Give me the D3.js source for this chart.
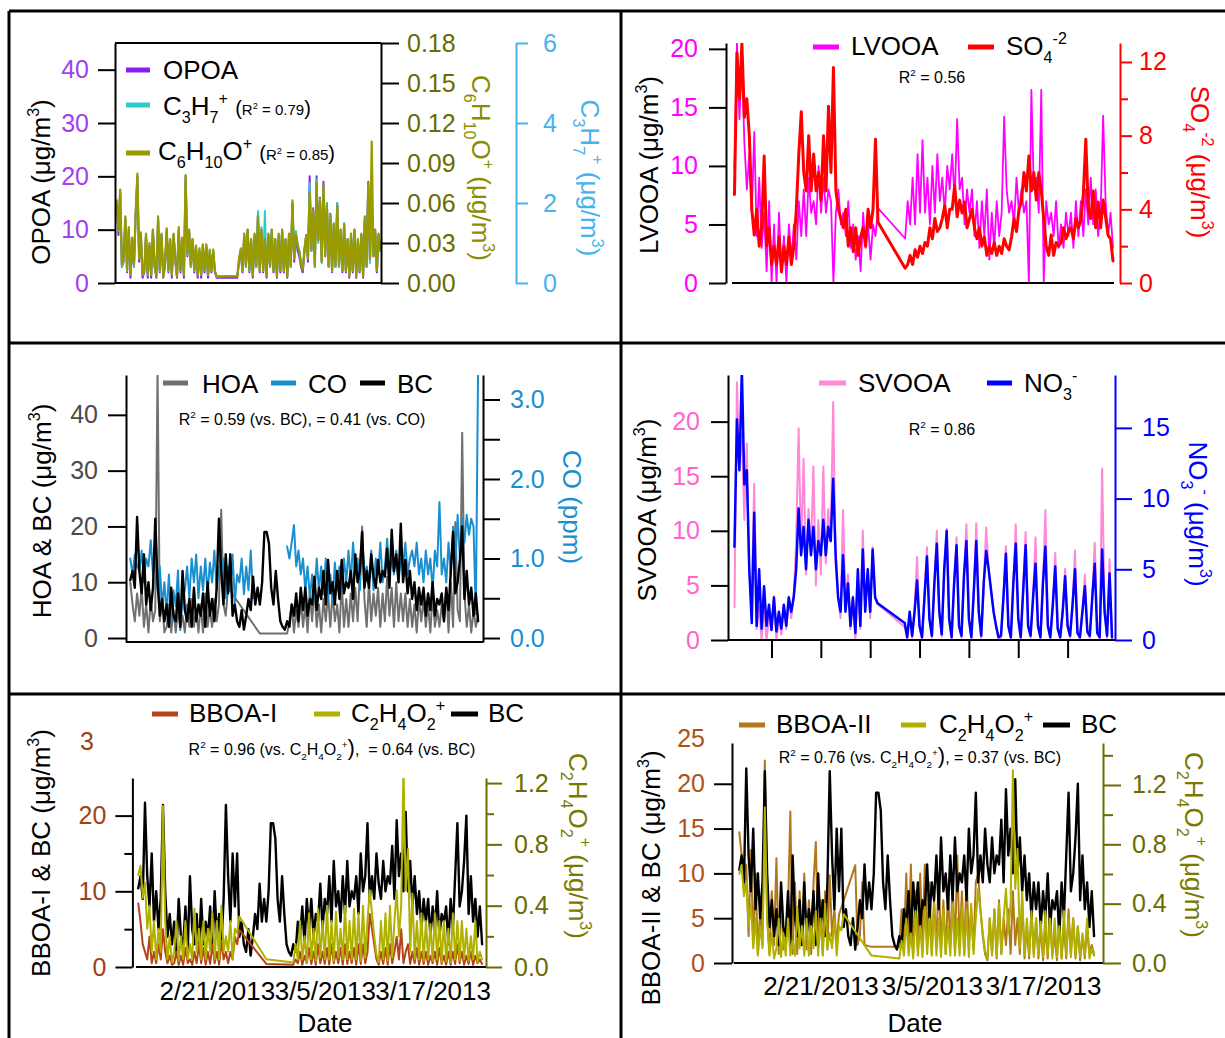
<!DOCTYPE html>
<html>
<head>
<meta charset="utf-8">
<title>Factor time series, Feb–Mar 2013</title>
<script src="https://cdn.jsdelivr.net/npm/d3@7"></script>
<style>
  html, body { margin: 0; padding: 0; background: #fff; }
  svg { display: block; }
  text { white-space: pre; }
</style>
</head>
<body>
<svg id="fig" width="1225" height="1038"></svg>
<script>
// ---- Data: 6-hourly samples starting 2013-02-12 06:00; null = no measurement ----
const opoa = [
  15, 9, 17, 3, 4, 12, 2, 10,
  1, 8, 3, 13, 20, 4, 9, 1,
  2, 9, 1, 7, 1, 10, 3, 1,
  12, 2, 9, 1, 3, 10, 2, 8,
  1, 9, 4, 1, 10, 2, 8, 1,
  20, 5, 10, 3, 8, 2, 7, 1,
  6, 1, 7, 2, 7, 1, 6, 2,
  6, 2, 1, null, null, null, null, null,
  null, null, null, null, null, null, 1, 4,
  6, 2, 9, 3, 10, 2, 8, 1,
  9, 3, 13, 2, 10, 2, 8, 1,
  9, 3, 10, 2, 8, 1, 9, 2,
  10, 2, 8, 1, 9, 3, 15, 4,
  9, 6, 5, 3, 2, 6, 9, 4,
  20, 6, 14, 3, 20, 8, 16, 4,
  19, 5, 15, 3, 13, 2, 11, 3,
  15, 3, 10, 2, 11, 2, 8, 1,
  9, 2, 10, 1, 8, 2, 9, 1,
  12, 3, 19, 4, 16, 5, 10, 2,
  9, 6
];
const c3h7 = [
  2.0, 1.3, 2.3, 0.4, 0.6, 1.6, 0.3, 1.3,
  0.2, 1.1, 0.4, 1.7, 2.6, 0.6, 1.2, 0.2,
  0.3, 1.2, 0.2, 0.9, 0.2, 1.3, 0.4, 0.2,
  1.6, 0.3, 1.2, 0.2, 0.4, 1.3, 0.3, 1.1,
  0.2, 1.2, 0.6, 0.2, 1.3, 0.3, 1.1, 0.2,
  2.6, 0.7, 1.3, 0.4, 1.1, 0.3, 0.9, 0.2,
  0.8, 0.2, 0.9, 0.3, 0.9, 0.2, 0.8, 0.3,
  0.8, 0.3, 0.16, null, null, null, null, null,
  null, null, null, null, null, null, 0.18, 0.6,
  0.8, 0.3, 1.2, 0.4, 1.3, 0.3, 1.1, 0.2,
  1.2, 0.4, 1.8, 0.3, 1.4, 0.3, 1.8, 0.2,
  1.2, 0.4, 1.3, 0.3, 1.1, 0.2, 1.2, 0.3,
  1.3, 0.3, 1.1, 0.2, 1.2, 0.4, 2.0, 0.6,
  1.3, 1.0, 0.8, 0.5, 0.4, 0.8, 1.2, 0.6,
  2.5, 0.8, 1.8, 0.4, 2.6, 1.0, 2.1, 0.5,
  2.4, 0.7, 2.0, 0.4, 1.7, 0.3, 1.5, 0.4,
  2.0, 0.4, 1.3, 0.3, 1.5, 0.3, 1.1, 0.2,
  1.2, 0.3, 1.3, 0.2, 1.1, 0.3, 1.2, 0.2,
  1.6, 0.4, 2.4, 0.5, 2.2, 0.7, 1.3, 0.3,
  1.2, 0.8
];
const c6h10o = [
  0.062, 0.04, 0.07, 0.014, 0.02, 0.05, 0.01, 0.042,
  0.006, 0.034, 0.014, 0.052, 0.082, 0.018, 0.038, 0.006,
  0.01, 0.037, 0.006, 0.03, 0.006, 0.04, 0.014, 0.005,
  0.05, 0.01, 0.037, 0.005, 0.014, 0.041, 0.01, 0.033,
  0.006, 0.037, 0.018, 0.005, 0.042, 0.01, 0.034, 0.006,
  0.081, 0.022, 0.04, 0.013, 0.033, 0.01, 0.028, 0.006,
  0.026, 0.006, 0.029, 0.009, 0.029, 0.006, 0.025, 0.009,
  0.025, 0.009, 0.005, null, null, null, null, null,
  null, null, null, null, null, null, 0.005, 0.018,
  0.026, 0.009, 0.037, 0.013, 0.04, 0.01, 0.033, 0.005,
  0.037, 0.013, 0.05, 0.009, 0.04, 0.009, 0.033, 0.005,
  0.037, 0.013, 0.04, 0.009, 0.033, 0.005, 0.037, 0.009,
  0.04, 0.009, 0.033, 0.005, 0.037, 0.013, 0.062, 0.018,
  0.036, 0.028, 0.024, 0.014, 0.01, 0.026, 0.036, 0.018,
  0.068, 0.025, 0.055, 0.013, 0.075, 0.032, 0.062, 0.016,
  0.074, 0.02, 0.058, 0.013, 0.05, 0.009, 0.044, 0.013,
  0.058, 0.013, 0.04, 0.009, 0.044, 0.009, 0.033, 0.005,
  0.037, 0.009, 0.04, 0.005, 0.033, 0.009, 0.037, 0.005,
  0.05, 0.013, 0.075, 0.018, 0.106, 0.02, 0.04, 0.009,
  0.037, 0.026
];
const lvooa = [
  9.8, 20.5, 14, 19, 12, 8, 11, 6,
  12.9, 4, 9, 3, 6, 1, 7, 0,
  5, 0, 6, 1, 4, 0, 5, 2,
  5, 2, 7, 4, 8, 4, 9, 6,
  7, 5, 10, 6, 9, 6, 8, 7,
  0, 6, 8, 5, 6, 4, 7, 3,
  5, 2, 4, 1, 6, 3, 5, 2,
  5, 4, 6.4, null, null, null, null, null,
  null, null, null, null, null, 3.8, 7, 5,
  9, 5, 11, 6, 12.2, 6, 9, 5,
  10, 6, 11, 7, 9, 6, 10, 8,
  11, 7, 14, 8, 9, 5, 8, 6,
  8, 4, 7, 3, 7, 4, 8, 2,
  6, 3, 7, 4, 6, 14.2, 8, 6,
  7, 5, 9, 6, 8, 6, 7, 0,
  16.5, 8, 9, 6, 16.5, 0, 7, 5,
  6, 4, 7, 3, 5, 3, 6, 4,
  6, 3, 7, 4, 7, 4, 8, 5,
  9, 5, 8, 4, 6, 14.3, 7, 4,
  6, 3
];
const so4 = [
  4.8, 12.5, 10, 13, 9, 10, 8, 4,
  2.6, 4, 2, 3, 6.9, 2, 3, 1,
  2, 1, 2.5, 0.6, 2, 1, 2.5, 1,
  2, 4, 7, 9.3, 6, 5, 8, 5,
  7, 5, 6, 4.5, 8, 5, 9.6, 6,
  11.7, 5, 4, 3.5, 3, 4, 2, 3,
  1.7, 3, 1.5, 2.5, 3, 2, 4, 3,
  4, 7.8, 3.3, null, null, null, null, null,
  null, null, null, null, null, 0.8, 1, 1.5,
  1, 1.8, 1.4, 2, 1.6, 2.2, 2, 3,
  2.4, 3.5, 2.8, 3, 3.5, 4.2, 3, 4,
  4, 5.3, 3.6, 4.5, 3.8, 4.4, 3, 3.5,
  4, 3, 2.4, 3, 2, 2.5, 1.5, 2,
  1.6, 2.2, 1.5, 2, 1.6, 2.4, 2, 1.8,
  2.5, 3.5, 2.8, 4, 4.4, 6, 5, 6.9,
  5, 6, 4.5, 6, 5, 3.5, 2, 1.5,
  2.6, 1.5, 2.2, 2, 2.2, 3, 2.4, 2.8,
  3, 2.4, 3.5, 3, 3.4, 4.8, 7.8, 4,
  3.5, 5, 3, 4.4, 3, 4.5, 3.6, 2.6,
  2.4, 1.2
];
const hoa = [
  10, 6, 3, 8, 4, 9, 2, 6,
  1, 7, 3, 5, 48, 3, 7, 1,
  2, 6, 1, 5, 1, 5, 2, 4,
  1, 6, 2, 7, 2, 5, 1, 6,
  1, 8, 2, 5, 2, 7, 3, 6,
  23, 6, 4, 9, null, null, null, null,
  null, null, null, null, null, null, null, null,
  null, 0.8, null, null, null, null, null, null,
  null, null, null, null, null, 0.8, 3, 6,
  1, 5, 2, 7, 2, 6, 1, 8,
  3, 9, 2, 6, 1, 7, 3, 8,
  2, 8, 3, 6, 1, 10, 2, 7,
  2, 8, 3, 9, 3, 12, 20, 7,
  2, 10, 3, 8, 4, 9, 2, 8,
  3, 11, 4, 9, 2, 10, 3, 8,
  3, 8, 2, 7, 2, 6, 1, 7,
  3, 7, 2, 6, 1, 8, 2, 5,
  2, 6, 3, 9, 1, 10, 2, 20.8,
  5, 3, 36.8, 8, 2, 6, 1, 5,
  2, 4
];
const co = [
  1.0, 0.8, 1.05, 0.9, 0.85, 1.1, 0.7, 1.0,
  0.9, 1.23, 0.8, 1.1, 0.6, 0.9, 0.4, 0.7,
  0.3, 0.8, 0.2, 0.6, 0.4, 0.85, 0.1, 0.5,
  0.6, 0.9, 0.5, 1.0, 0.7, 1.05, 0.5, 0.9,
  0.6, 1.0, 0.55, 0.95, 0.7, 1.1, 0.6, 0.9,
  0.8, 1.0, 0.5, 0.9, 0.6, 1.05, 0.45, 0.8,
  0.7, 1.0, 0.55, 0.9, 0.6, 1.1, 0.5, null,
  null, null, null, null, null, null, null, null,
  null, null, null, null, null, 1.15, 1.0, 1.2,
  1.42, 0.9, 1.1, 0.8, 1.0, 0.6, 0.9, 0.5,
  0.8, 0.5, 1.0, 0.6, 0.9, 0.55, 1.0, 0.5,
  0.8, 0.45, 0.95, 0.6, 0.9, 0.6, 1.0, 0.7,
  1.1, 0.7, 1.2, 0.8, 1.0, 0.6, 1.27, 0.8,
  0.9, 0.7, 1.1, 0.6, 1.0, 0.8, 1.2, 0.7,
  0.9, 1.25, 0.8, 1.0, 0.8, 1.1, 0.7, 1.0,
  0.9, 1.2, 0.8, 1.0, 1.1, 0.9, 1.2, 0.8,
  1.0, 0.7, 1.1, 0.8, 1.0, 0.6, 1.1, 0.9,
  1.71, 0.8, 1.0, 0.7, 1.2, 0.8, 1.4, 0.9,
  1.55, 1.0, 1.5, 1.2, 1.55, 1.3, 1.5, 1.4,
  0.3, 3.4
];
const bc = [
  10.4, 12, 9, 21.7, 12, 8, 15, 6,
  10, 5, 9, 21.4, 10, 4, 7, 3,
  6, 2, 9, 4, 3, 8, 2, 12,
  5, 3, 7, 2, 9, 3, 6, 4,
  8, 2, 10, 4, 7, 3, 9, 21.4,
  12, 6, 15, 8, 15, 4, 6, 3,
  2, 5, 1.5, 4, 7, 5, 11, 6,
  9, 6, 10, 19, 19, 17, 9, 6,
  12, 7, 3, 2, 1.5, 3, 2, 6,
  4, 8, 3, 9, 5, 9, 4, 7,
  6, 11, 5, 9, 7, 12, 6, 14,
  8, 10, 6, 12, 7, 14, 8, 10,
  9, 12, 7, 15, 10, 12, 19, 9,
  12, 9, 15, 11, 9, 14, 10, 12,
  11, 16, 9, 19.4, 12, 15, 10, 20.5,
  10, 14, 8, 12, 7, 10, 5, 9,
  6, 9, 4, 8, 5, 10, 4, 7,
  6, 8, 3, 9, 5, 12, 19, 8,
  10, 14, 20, 7, 12, 6, 9, 4,
  8, 3
];
const svooa = [
  3, 23.6, 16, 18.9, 11, 18, 6, 4,
  14.3, 1, 3, 0, 3, 0, 2, 1,
  4, 0, 2, 0.5, 3, 1, 4, 2,
  4, 9, 19.4, 8, 16.6, 6, 12, 8,
  15.9, 5, 11, 6, 15.9, 7, 12, 9,
  21.8, 7, 4, 2, 11.9, 3, 6, 1,
  4, 0, 6, 1, 10, 3, 6, 2,
  8.5, 4, 3.3, null, null, null, null, null,
  null, null, null, null, null, 1.2, 0.1, 2,
  0.2, 3, 7.6, 1.2, 0.1, 4, 8.5, 2,
  0.2, 5, 10, 2.5, 0.3, 6, 10.2, 2,
  0.1, 5, 9.4, 1.3, 0.2, 6, 10.6, 2,
  0.1, 4.5, 10.7, 2.5, 0.2, 5, 10.3, 6.5,
  4.5, 2.6, 1.3, 0.1, 0.2, 4, 8.6, 1.2,
  0.1, 5, 10.6, 2, 0.1, 4.5, 9.9, 1.3,
  0.2, 4, 9.4, 1.2, 0.1, 5, 11.9, 1.3,
  0.1, 3, 8, 1, 0.1, 2.5, 6.5, 1.2,
  0.2, 3, 8.2, 0.6, 0.1, 2.5, 6, 0.7,
  0.2, 4, 8.9, 0.6, 0.1, 15.7, 2.6, 0.2,
  7.4, 0.1
];
const no3 = [
  6.6, 15.6, 12, 19.1, 11, 12, 5, 1.2,
  9, 1, 5, 0.8, 3.8, 1, 2.5, 0.7,
  3, 0.6, 2, 0.8, 2.5, 1, 3, 2,
  3, 5, 9.3, 6, 8, 5, 8.5, 6,
  8, 5, 7, 6, 8.5, 6, 8, 7,
  11.4, 6, 3, 2, 6, 2, 4, 1,
  3, 0.5, 5, 1, 6.4, 2, 5, 2,
  6.4, 3, 2.6, null, null, null, null, null,
  null, null, null, null, null, 1.2, 0.2, 2,
  0.3, 2, 4.2, 1, 0.2, 3, 5.9, 1.5,
  0.3, 4, 6.8, 2, 0.4, 5, 7.7, 1.5,
  0.2, 4, 6.7, 1, 0.3, 4.5, 7.0, 1.5,
  0.2, 3.5, 7.0, 2, 0.3, 4, 6.3, 5,
  3.5, 2, 1, 0.2, 0.3, 3, 6.1, 1,
  0.2, 4, 6.8, 1.5, 0.2, 3.5, 6.7, 1,
  0.3, 3, 5.4, 1, 0.2, 4, 6.6, 1,
  0.2, 2.5, 5.2, 0.8, 0.2, 2, 4.5, 1,
  0.3, 2.5, 5.0, 0.5, 0.2, 2, 3.8, 0.6,
  0.3, 3, 5.4, 0.5, 0.2, 6.4, 2, 0.3,
  4.7, 0.2
];
const bboa1 = [
  8.4, 6, 3, 2, 1, 4, 0.5, 2,
  0.5, 3, 1, 5, 2, 0.5, 1.5, 0.3,
  0.5, 2, 0.3, 1.5, 0.3, 2.5, 0.5, 1,
  0.3, 2, 0.5, 3, 0.5, 2.5, 0.3, 2,
  0.4, 3, 0.5, 2, 0.3, 3.5, 1, 2,
  0.5, 2, 1, 4, 3, 4.9, null, null,
  null, null, null, null, null, null, null, null,
  null, 0.4, null, null, null, null, null, null,
  null, null, null, null, null, 0.3, 1, 0.5,
  2, 0.3, 1.5, 0.5, 2.5, 0.4, 2, 0.3,
  3, 0.5, 2, 0.4, 2.5, 0.3, 3, 0.5,
  2, 0.5, 2.5, 0.3, 3, 0.4, 2, 0.5,
  2.5, 0.3, 3, 0.4, 3, 0.5, 2, 7,
  5, 3, 1, 0.3, 2, 0.4, 2.5, 0.3,
  3, 0.5, 2, 4, 1, 5, 0.5, 2,
  3, 0.4, 2, 0.5, 2.5, 0.3, 2, 0.4,
  2, 0.3, 1.5, 0.5, 2, 0.3, 2.5, 0.4,
  1.5, 0.3, 2, 0.3, 2, 0.4, 3, 0.5,
  2, 0.3, 1.5, 0.4, 2, 0.3, 1.5, 0.5,
  1, 0.4
];
const c2h4o2 = [
  0.6, 0.66, 0.45, 0.55, 0.25, 0.4, 0.1, 0.3,
  0.05, 0.25, 0.1, 1.05, 0.3, 0.05, 0.2, 0.03,
  0.1, 0.3, 0.04, 0.2, 0.05, 0.3, 0.05, 0.15,
  0.05, 0.38, 0.1, 0.25, 0.05, 0.3, 0.05, 0.25,
  0.1, 0.35, 0.05, 0.3, 0.05, 0.4, 0.1, 0.2,
  0.1, 0.3, 0.05, 0.25, 0.22, 0.33, null, null,
  null, null, null, null, null, null, null, null,
  null, 0.05, null, null, null, null, null, null,
  null, null, null, null, null, 0.03, 0.15, 0.05,
  0.3, 0.05, 0.2, 0.03, 0.35, 0.05, 0.25, 0.04,
  0.38, 0.06, 0.3, 0.05, 0.4, 0.05, 0.3, 0.04,
  0.36, 0.06, 0.25, 0.05, 0.4, 0.05, 0.3, 0.05,
  0.38, 0.05, 0.35, 0.04, 0.4, 0.06, 0.3, 0.5,
  0.35, 0.2, 0.08, 0.03, 0.3, 0.05, 0.35, 0.04,
  0.4, 0.06, 0.3, 0.5, 0.2, 0.4, 1.3, 0.5,
  0.77, 0.1, 0.48, 0.05, 0.3, 0.05, 0.35, 0.04,
  0.3, 0.05, 0.28, 0.04, 0.35, 0.05, 0.3, 0.03,
  0.3, 0.04, 0.25, 0.03, 0.35, 0.05, 0.3, 0.04,
  0.3, 0.05, 0.25, 0.04, 0.2, 0.05, 0.3, 0.03,
  0.1, 0.05
];
const bboa2 = [
  14.6, 12, 8, 11, 3, 12.6, 2, 10,
  1, 6, 2, 22.6, 5, 1, 8, 2,
  11.7, 1, 7, 1.5, 2, 6, 16.9, 1,
  9, 1, 8, 2, 10, 1.5, 7, 1,
  9, 13.5, 2, 7, 1, 8, 1.5, 9.8,
  3, 6, 2, 5.4, null, null, null, null,
  null, null, 10.9, 2, 3, 9, 2, null,
  null, 1.8, null, null, null, null, null, null,
  null, null, null, null, null, 1.8, 6, 2,
  10, 2, 11, 1, 8, 1.5, 10, 2,
  11, 2, 9, 1, 7, 2, 10, 1.5,
  7, 1, 8, 2, 9, 1.5, 12, 2,
  8, 1, 10, 2, 6, 1.5, 9, 10,
  6, 3, 1, 0.3, 5, 1, 6, 0.5,
  7, 1, 5, 2, 6, 1, 8, 2,
  5, 1, 7, 0.5, 4, 0.5, 6, 1,
  5, 0.5, 4, 0.3, 4, 0.5, 6, 1,
  3, 0.3, 5, 0.5, 4, 0.5, 6, 1,
  5, 0.5, 4, 0.3, 3, 0.5, 4, 1,
  2, 1
];

// ---- Axis ticks and date labels ----
const opoaTicks = [0, 10, 20, 30, 40];
const c6h10oTicks = [0, 0.03, 0.06, 0.09, 0.12, 0.15, 0.18];
const c3h7Ticks = [0, 2, 4, 6];
const lvooaTicks = [0, 5, 10, 15, 20];
const so4Ticks = [0, 4, 8, 12];
const so4Minor = [2, 6, 10];
const hoaTicks = [0, 10, 20, 30, 40];
const coTicks = [0, 1, 2, 3];
const coMinor = [0.5, 1.5, 2.5];
const svooaTicks = [0, 5, 10, 15, 20];
const no3Ticks = [0, 5, 10, 15];
const bboa1Ticks = [0, 10, 20];
const bboa1Minor = [5, 15];
const bboa2Ticks = [0, 5, 10, 15, 20];
const c2h4o2Ticks = [0, 0.4, 0.8, 1.2];
const c2h4o2Minor5 = [0.2, 0.6, 1.0];
const c2h4o2Minor6 = [0.2, 0.6, 1.0, 1.4];
const dateLabels = ["2013-02-21", "2013-03-05", "2013-03-17"];
const dateMarks = ["2013-02-16", "2013-02-21", "2013-02-26", "2013-03-03", "2013-03-08", "2013-03-13", "2013-03-18"];

// ---- Setup ----
const FONT = '"Liberation Sans", Arial, Helvetica, sans-serif';
const svg = d3.select("#fig").attr("font-family", FONT);
svg.append("rect").attr("width", 1225).attr("height", 1038).attr("fill", "#fff");

const HOUR = 36e5;
const t0 = Date.UTC(2013, 1, 12);
const times = opoa.map((_, i) => new Date(t0 + (i + 1) * 6 * HOUR));
const xDomain = [new Date(t0), new Date(t0 + 38.6 * 24 * HOUR)];
const utcDay = s => new Date(s + "T00:00:00Z");
const dateFmt = d3.utcFormat("%-m/%-d/%Y");

// rich-text parts: [text, font size, baseline offset]
const N = (t, s) => [t, s, 0];
const sub = (t, s) => [t, s * 0.62, s * 0.3];
const sup = (t, s) => [t, s * 0.62, -s * 0.42];
const unit = s => [N(" (μg/m", s), sup("3", s), N(")", s)];

function rich(x, y, parts, o = {}) {
  const t = svg.append("text")
    .attr("transform", `translate(${x},${y})` + (o.rotate ? ` rotate(${o.rotate})` : ""))
    .attr("text-anchor", o.anchor || "start")
    .attr("fill", o.fill || "#000");
  let off = 0;
  parts.forEach(([str, size, shift]) => {
    t.append("tspan").attr("dy", shift - off).attr("font-size", size).text(str);
    off = shift;
  });
  return t;
}

let clipCount = 0;
function plotLayer(x0, y0, x1, y1) {
  const id = "plotclip" + (++clipCount);
  svg.append("clipPath").attr("id", id)
    .append("rect").attr("x", x0).attr("y", y0).attr("width", x1 - x0).attr("height", y1 - y0);
  return svg.append("g").attr("clip-path", `url(#${id})`);
}

function series(g, values, x, y, color, width, bridgeGaps = true) {
  let pts = values.map((v, i) => ({ t: times[i], v }));
  if (bridgeGaps) pts = pts.filter(p => p.v != null);
  g.append("path").datum(pts)
    .attr("d", d3.line().defined(p => p.v != null).x(p => x(p.t)).y(p => y(p.v)))
    .attr("fill", "none").attr("stroke", color).attr("stroke-width", width)
    .attr("stroke-linejoin", "round").attr("stroke-linecap", "round");
}

function axis(kind, scale, pos, o) {
  const make = kind === "left" ? d3.axisLeft : kind === "right" ? d3.axisRight : d3.axisBottom;
  const gen = make(scale).tickValues(o.values).tickSize(o.len).tickSizeOuter(0)
    .tickPadding(o.pad ?? 8).tickFormat(o.fmt || (() => ""));
  const a = svg.append("g")
    .attr("transform", kind === "bottom" ? `translate(0,${pos})` : `translate(${pos},0)`)
    .call(gen);
  a.attr("font-family", null).attr("font-size", null);
  a.select(".domain").attr("stroke", o.line || "#000").attr("stroke-width", 2)
    .style("display", o.noDomain ? "none" : null);
  a.selectAll(".tick line").attr("stroke", o.line || "#000").attr("stroke-width", 2)
    .style("display", o.len === 0 ? "none" : null);
  a.selectAll(".tick text").attr("fill", o.color || "#000")
    .attr("font-size", o.size || 25).attr("font-family", FONT);
  return a;
}

function line(x1, y1, x2, y2, color = "#000", w = 2) {
  svg.append("line").attr("x1", x1).attr("y1", y1).attr("x2", x2).attr("y2", y2)
    .attr("stroke", color).attr("stroke-width", w);
}
const swatch = (x0, x1, y, color) => line(x0, y, x1, y, color, 5);

const S = 26;      // title / legend size
const R = 16;      // R² annotation size

// ---- Panel 1: OPOA ----
{
  const x = d3.scaleUtc().domain(xDomain).range([115, 381]);
  const yL = d3.scaleLinear().domain([0, 45]).range([283, 43]);
  const yC6 = d3.scaleLinear().domain([0, 0.18]).range([283, 43]);
  const yC3 = d3.scaleLinear().domain([0, 6]).range([283, 43]);
  const g = plotLayer(115, 43, 381, 283);
  series(g, opoa, x, yL, "#8a1ef0", 2);
  series(g, c3h7, x, yC3, "#2ccccc", 2);
  series(g, c6h10o, x, yC6, "#999900", 2.2);
  line(115, 43, 381, 43); line(115, 283, 381, 283);
  axis("left", yL, 115, { values: opoaTicks, len: 17, pad: 9, fmt: d3.format("d"), color: "#a040f0" });
  axis("right", yC6, 381, { values: c6h10oTicks, len: 18, pad: 8, fmt: d3.format(".2f"), color: "#6b6b00" });
  axis("right", yC3, 516, { values: c3h7Ticks, len: 12, pad: 15, fmt: d3.format("d"), color: "#45b3ee", line: "#45b3ee" });
  rich(50, 182, [N("OPOA", S), ...unit(S)], { rotate: -90, anchor: "middle" });
  rich(472, 168, [N("C", S), sub("6", S), N("H", S), sub("10", S), N("O", S), sup("+", S), ...unit(S)],
    { rotate: 90, anchor: "middle", fill: "#8c8c00" });
  rich(581, 178, [N("C", S), sub("3", S), N("H", S), sub("7", S), sup("+", S), ...unit(S)],
    { rotate: 90, anchor: "middle", fill: "#45b3ee" });
  swatch(126, 150, 70, "#8a1ef0");
  rich(163, 79, [N("OPOA", S)]);
  swatch(126, 150, 105, "#2ccccc");
  rich(163, 115, [N("C", S), sub("3", S), N("H", S), sub("7", S), sup("+", S), N(" ", S),
    N("(", 20), N("R", 15), sup("2", 15), N(" = 0.79", 15), N(")", 20)]);
  swatch(126, 150, 153, "#999900");
  rich(158, 160, [N("C", S), sub("6", S), N("H", S), sub("10", S), N("O", S), sup("+", S), N(" ", S),
    N("(", 20), N("R", 15), sup("2", 15), N(" = 0.85", 15), N(")", 20)]);
}

// ---- Panel 2: LVOOA vs sulfate ----
{
  const x = d3.scaleUtc().domain(xDomain).range([732, 1114]);
  const yL = d3.scaleLinear().domain([0, 20.5]).range([283, 43]);
  const yR = d3.scaleLinear().domain([0, 13.03]).range([283, 43]);
  const g = plotLayer(726, 43, 1120, 283);
  series(g, lvooa, x, yL, "#ff00ff", 1.8);
  series(g, so4, x, yR, "#ff0000", 3);
  line(732, 283, 1114, 283);
  axis("left", yL, 726, { values: lvooaTicks, len: 17, pad: 11, fmt: d3.format("d"), color: "#ff00ff" });
  axis("right", yR, 1120, { values: so4Ticks, len: 12, pad: 7, fmt: d3.format("d"), color: "#ff0000", line: "#ff0000" });
  axis("right", yR, 1120, { values: so4Minor, len: 8, line: "#ff0000", noDomain: true });
  rich(658, 165, [N("LVOOA", S), ...unit(S)], { rotate: -90, anchor: "middle" });
  rich(1191, 162, [N("SO", S), sub("4", S), sup("-2", S), ...unit(S)], { rotate: 90, anchor: "middle", fill: "#ff0000" });
  swatch(813, 839, 47, "#ff00ff");
  rich(851, 55, [N("LVOOA", S)]);
  swatch(968, 994, 47, "#ff0000");
  rich(1006, 55, [N("SO", S), sub("4", S), sup("-2", S)]);
  rich(932, 83, [N("R", R), sup("2", R), N(" = 0.56", R)], { anchor: "middle" });
}

// ---- Panel 3: HOA, CO, BC ----
{
  const x = d3.scaleUtc().domain(xDomain).range([128, 479]);
  const yL = d3.scaleLinear().domain([-0.714, 47.14]).range([642, 375]);
  const yR = d3.scaleLinear().domain([-0.05, 3.308]).range([642, 375]);
  const g = plotLayer(126, 375, 483, 642);
  series(g, hoa, x, yL, "#707070", 2);
  series(g, co, x, yR, "#1a8fd0", 2, false);
  series(g, bc, x, yL, "#000000", 2.4);
  line(126, 642, 483, 642);
  axis("left", yL, 126, { values: hoaTicks, len: 18, pad: 10, fmt: d3.format("d"), color: "#4a4a4a" });
  axis("right", yR, 483, { values: coTicks, len: 17, pad: 10, fmt: d3.format(".1f"), color: "#1a8fd0" });
  axis("right", yR, 483, { values: coMinor, len: 17, noDomain: true });
  rich(51, 511, [N("HOA & BC", S), ...unit(S)], { rotate: -90, anchor: "middle" });
  rich(563, 507, [N("CO (ppm)", S)], { rotate: 90, anchor: "middle", fill: "#1a8fd0" });
  swatch(163, 188, 383, "#707070");
  rich(202, 393, [N("HOA", S)]);
  swatch(271, 296, 383, "#1a8fd0");
  rich(308, 393, [N("CO", S)]);
  swatch(360, 385, 383, "#000");
  rich(397, 393, [N("BC", S)]);
  rich(302, 425, [N("R", R), sup("2", R), N(" = 0.59 (vs. BC), = 0.41 (vs. CO)", R)], { anchor: "middle" });
}

// ---- Panel 4: SVOOA vs nitrate ----
{
  const x = d3.scaleUtc().domain(xDomain).range([732, 1113]);
  const yL = d3.scaleLinear().domain([0, 24.27]).range([640, 375]);
  const yR = d3.scaleLinear().domain([0, 18.74]).range([640, 375]);
  const g = plotLayer(728, 375, 1115, 640);
  series(g, svooa, x, yL, "#ff88d8", 2);
  series(g, no3, x, yR, "#0000ff", 2.5);
  line(728, 640, 1115, 640);
  axis("bottom", x, 640, { values: dateMarks.map(utcDay), len: 18, noDomain: true });
  axis("left", yL, 728, { values: svooaTicks, len: 17, pad: 11, fmt: d3.format("d"), color: "#ff66cc" });
  axis("right", yR, 1115, { values: no3Ticks, len: 17, pad: 10, fmt: d3.format("d"), color: "#0000ff", line: "#0000ff" });
  rich(656, 510, [N("SVOOA", S), ...unit(S)], { rotate: -90, anchor: "middle" });
  rich(1189, 514, [N("NO", S), sub("3", S), sup("-", S), ...unit(S)], { rotate: 90, anchor: "middle", fill: "#0000ff" });
  swatch(819, 846, 383, "#ff88d8");
  rich(858, 392, [N("SVOOA", S)]);
  swatch(987, 1012, 383, "#0000ff");
  rich(1024, 392, [N("NO", S), sub("3", S), sup("-", S)]);
  rich(942, 435, [N("R", R), sup("2", R), N(" = 0.86", R)], { anchor: "middle" });
}

// ---- Panel 5: BBOA-I, C2H4O2+, BC ----
{
  const x = d3.scaleUtc().domain(xDomain).range([136, 483]);
  const yL = d3.scaleLinear().domain([0, 24.97]).range([967, 778]);
  const yR = d3.scaleLinear().domain([0, 1.233]).range([967, 778]);
  const g = plotLayer(132, 778, 486, 967);
  series(g, bc, x, yL, "#000000", 2.4);
  series(g, bboa1, x, yL, "#b5441a", 2);
  series(g, c2h4o2, x, yR, "#b0b000", 2);
  line(136, 967, 486, 967);
  axis("left", yL, 132.4, { values: bboa1Ticks, len: 17, pad: 9, fmt: d3.format("d"), color: "#a0401a" });
  axis("left", yL, 132.4, { values: bboa1Minor, len: 8, noDomain: true });
  axis("right", yR, 486, { values: c2h4o2Ticks, len: 16, pad: 12, fmt: d3.format(".1f"), color: "#6b6b00", line: "#6b6b00" });
  axis("right", yR, 486, { values: c2h4o2Minor5, len: 8, line: "#6b6b00", noDomain: true });
  axis("bottom", x, 967, { values: dateLabels.map(utcDay), len: 0, pad: 15, fmt: dateFmt, size: 26, noDomain: true });
  rich(80, 750, [N("3", 25)], { fill: "#a0401a" });
  rich(325, 1032, [N("Date", S)], { anchor: "middle" });
  rich(50, 853, [N("BBOA-I & BC", S), ...unit(S)], { rotate: -90, anchor: "middle" });
  rich(569, 846, [N("C", S), sub("2", S), N("H", S), sub("4", S), N("O", S), sub("2", S), sup("+", S), ...unit(S)],
    { rotate: 90, anchor: "middle", fill: "#7a7a00" });
  swatch(152, 178, 714, "#b5441a");
  rich(189, 722, [N("BBOA-I", S)]);
  swatch(314, 340, 714, "#b0b000");
  rich(351, 722, [N("C", S), sub("2", S), N("H", S), sub("4", S), N("O", S), sub("2", S), sup("+", S)]);
  swatch(451, 478, 714, "#000");
  rich(488, 722, [N("BC", S)]);
  rich(332, 755, [N("R", R), sup("2", R), N(" = 0.96 (vs. C", R), sub("2", R), N("H", R), sub("4", R), N("O", R),
    sub("2", R), sup("+", R), N(")", 22), N(",  = 0.64 (vs. BC)", R)], { anchor: "middle" });
}

// ---- Panel 6: BBOA-II, C2H4O2+, BC ----
{
  const x = d3.scaleUtc().domain(xDomain).range([737, 1095]);
  const yL = d3.scaleLinear().domain([0, 24.55]).range([963, 743]);
  const yR = d3.scaleLinear().domain([0, 1.483]).range([963, 743]);
  const g = plotLayer(732, 743, 1103, 963);
  series(g, bboa2, x, yL, "#b3771b", 2);
  series(g, bc, x, yL, "#000000", 2.4);
  series(g, c2h4o2, x, yR, "#b0b000", 2);
  line(734, 963, 1103, 963);
  axis("left", yL, 732, { values: bboa2Ticks, len: 18, pad: 9, fmt: d3.format("d"), color: "#b0501a" });
  axis("right", yR, 1103, { values: c2h4o2Ticks, len: 18, pad: 11, fmt: d3.format(".1f"), color: "#6b6b00", line: "#6b6b00" });
  axis("right", yR, 1103, { values: c2h4o2Minor6, len: 10, line: "#6b6b00", noDomain: true });
  axis("bottom", x, 963, { values: dateLabels.map(utcDay), len: 0, pad: 14, fmt: dateFmt, size: 26, noDomain: true });
  rich(705, 747, [N("25", 25)], { anchor: "end", fill: "#b0501a" });
  rich(915, 1032, [N("Date", S)], { anchor: "middle" });
  rich(660, 878, [N("BBOA-II & BC", S), ...unit(S)], { rotate: -90, anchor: "middle" });
  rich(1185, 845, [N("C", S), sub("2", S), N("H", S), sub("4", S), N("O", S), sub("2", S), sup("+", S), ...unit(S)],
    { rotate: 90, anchor: "middle", fill: "#7a7a00" });
  swatch(739, 765, 725, "#b3771b");
  rich(776, 733, [N("BBOA-II", S)]);
  swatch(901, 926, 725, "#b0b000");
  rich(939, 733, [N("C", S), sub("2", S), N("H", S), sub("4", S), N("O", S), sub("2", S), sup("+", S)]);
  swatch(1043, 1070, 725, "#000");
  rich(1081, 733, [N("BC", S)]);
  rich(920, 763, [N("R", R), sup("2", R), N(" = 0.76 (vs. C", R), sub("2", R), N("H", R), sub("4", R), N("O", R),
    sub("2", R), sup("+", R), N(")", 22), N(", = 0.37 (vs. BC)", R)], { anchor: "middle" });
}

// ---- Figure frame ----
line(9, 11, 1225, 11, "#000", 3);
line(9, 11, 9, 1038, "#000", 3);
line(621, 11, 621, 1038, "#000", 3);
line(9, 343, 1225, 343, "#000", 3);
line(9, 694, 1225, 694, "#000", 3);
</script>
</body>
</html>
